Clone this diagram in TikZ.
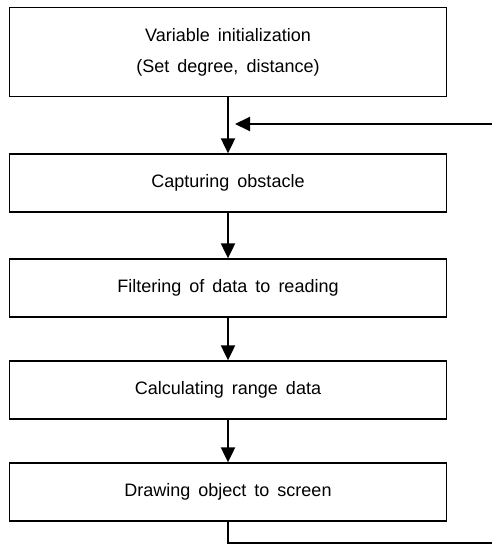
\documentclass[tikz,border=0pt]{standalone}
\usepackage{fontspec}
\setmainfont{Liberation Sans}[WordSpace=1.6]
\usetikzlibrary{arrows.meta}
\usetikzlibrary{positioning}
\tikzset{
    stepnode/.style={
           rectangle,
           draw=black, line width=1.3pt,
           minimum width=437pt,
           minimum height=58pt,
           align=center,
           font=\fontsize{18}{31}\selectfont,
           },
    flow/.style={
           -{Triangle[width=14pt,length=15pt]},
           line width=2pt,
           },
}

\begin{document}
\begin{tikzpicture}[x=1pt,y=-1pt]
\useasboundingbox (0,0) rectangle (492,553);
\node[stepnode, minimum height=89pt] (init) at (228,52) {Variable initialization\\(Set degree, distance)};
\node[stepnode] (capture) at (228,183) {Capturing obstacle};
\node[stepnode] (filter) at (228,288) {Filtering of data to reading};
\node[stepnode] (range) at (228,390) {Calculating range data};
\node[stepnode] (draw) at (228,492) {Drawing object to screen};
\draw[flow] (init) to (capture);
\draw[flow] (capture) to (filter);
\draw[flow] (filter) to (range);
\draw[flow] (range) to (draw);
% loop back
\coordinate (loopin) at (492,124);
\coordinate (loopout) at (492,543);
\coordinate (loopend) at (235,124);
\draw[line width=2pt] (draw.south) |- (loopout);
\draw[flow] (loopin) to (loopend);
\end{tikzpicture}
\end{document}
